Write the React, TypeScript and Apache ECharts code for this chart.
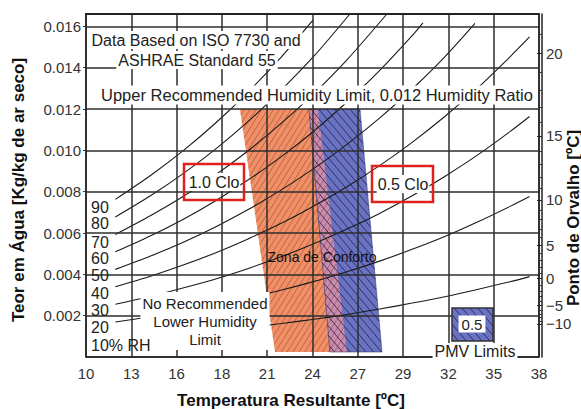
import React, { useEffect, useRef } from 'react';
import * as echarts from 'echarts';

// ---------- data ----------
// x axis runs in 5 °F steps (50..100 °F); labels are the rounded °C values
const xTickLabels = ['10', '13', '16', '18', '21', '24', '27', '29', '32', '35', '38'];
const xMinF = 50;
const xStepF = 5;
const yMax = 0.0166;
// dew point axis (right): labels and the humidity ratio where they sit
const dewTickLabels = ['−10', '−5', '0', '5', '10', '15', '20'];
const dewTickRatios = [0.0016, 0.0025, 0.0038, 0.0054, 0.0076, 0.0107, 0.0147];

// relative humidity curves: [temperature °C, humidity ratio kg/kg]
const rh90 = [[11.8, 0.00763], [14, 0.00881], [16, 0.01001], [18, 0.01136], [20, 0.01287], [22, 0.01454], [23.92, 0.0163]];
const rh80 = [[11.8, 0.00678], [14, 0.00783], [16, 0.0089], [18, 0.0101], [20, 0.01144], [22, 0.01294], [24, 0.01458], [26.18, 0.0166]];
const rh70 = [[11.8, 0.00593], [14, 0.00686], [16, 0.00779], [18, 0.00885], [20, 0.01002], [22, 0.01133], [24, 0.01277], [26, 0.01438], [28.45, 0.0166]];
const rh60 = [[11.8, 0.00509], [14, 0.00588], [16, 0.00668], [18, 0.00759], [20, 0.0086], [22, 0.00971], [24, 0.01095], [26, 0.01234], [28, 0.01386], [30, 0.01555], [30.66, 0.01617]];
const rh50 = [[11.8, 0.00424], [14, 0.0049], [16, 0.00557], [18, 0.00632], [20, 0.00716], [22, 0.0081], [24, 0.00914], [26, 0.01029], [28, 0.01156], [30, 0.01297], [32, 0.01453], [33.85, 0.01615]];
const rh40 = [[11.8, 0.0034], [14, 0.00392], [16, 0.00446], [18, 0.00506], [20, 0.00574], [22, 0.00648], [24, 0.00732], [26, 0.00824], [28, 0.00926], [30, 0.01039], [32, 0.01164], [34, 0.01301], [36, 0.01453], [37.2, 0.01549]];
const rh30 = [[11.8, 0.00255], [14, 0.00294], [16, 0.00335], [18, 0.00379], [20, 0.0043], [22, 0.00486], [24, 0.00549], [26, 0.00619], [28, 0.00695], [30, 0.0078], [32, 0.00874], [34, 0.00977], [36, 0.01091], [37.2, 0.01164]];
const rh20 = [[11.8, 0.00169], [14, 0.00196], [16, 0.00223], [18, 0.00253], [20, 0.00287], [22, 0.00324], [24, 0.00366], [26, 0.00413], [28, 0.00464], [30, 0.00521], [32, 0.00583], [34, 0.00653], [36, 0.00729], [37.2, 0.00777]];
const rh10 = [[14, 0.00098], [16, 0.00112], [18, 0.00127], [20, 0.00144], [22, 0.00162], [24, 0.00183], [26, 0.00206], [28, 0.00232], [30, 0.00261], [32, 0.00292], [34, 0.00327], [36, 0.00364], [37.2, 0.00389]];
const rhCurves = [rh90, rh80, rh70, rh60, rh50, rh40, rh30, rh20, rh10];
const rhLabels = ['90', '80', '70', '60', '50', '40', '30', '20', '10% RH'];

// comfort zones (corners: top-left, top-right, bottom-right, bottom-left), [°C, kg/kg]
const zone10Clo = [[19.44, 0.012], [24.22, 0.012], [26.0, 0.00024], [21.59, 0.00024]];
const zone05Clo = [[23.67, 0.012], [26.8, 0.012], [28.15, 0.00024], [24.96, 0.00024]];

// ---------- helpers ----------
const FONT = "'Liberation Sans', Arial, Helvetica, sans-serif";
const ORANGE = '#ef9068';
const BLUE = '#6a72c2';
const PINK = '#c78cae';
const GRID_COLOR = '#2e2e2e';
const toF = (c: number) => c * 1.8 + 32;
const xMaxF = xMinF + xStepF * (xTickLabels.length - 1);

function magnusRatio(td: number) {
  const es = td >= 0
    ? 0.61094 * Math.exp((17.625 * td) / (td + 243.04))
    : 0.61115 * Math.exp((22.452 * td) / (272.55 + td));
  return (0.622 * es) / (101.325 - es);
}
const dewMinorTicks: number[] = [];
for (let t = -10; t <= 21; t++) {
  if (t % 5 !== 0) dewMinorTicks.push(magnusRatio(t));
}

function hatchLines(pts: number[][], angleDeg: number, spacing: number, style: any) {
  const a = (angleDeg * Math.PI) / 180;
  const d = [Math.cos(a), -Math.sin(a)];
  const n = [-d[1], d[0]];
  const proj = pts.map((p) => p[0] * n[0] + p[1] * n[1]);
  const smin = Math.min(...proj);
  const smax = Math.max(...proj);
  const out: any[] = [];
  for (let s = Math.ceil(smin / spacing) * spacing; s <= smax; s += spacing) {
    const hits: number[][] = [];
    for (let i = 0; i < pts.length; i++) {
      const j = (i + 1) % pts.length;
      const sa = proj[i];
      const sb = proj[j];
      if (sa === sb) continue;
      if ((sa - s) * (sb - s) <= 0) {
        const t = (s - sa) / (sb - sa);
        hits.push([pts[i][0] + t * (pts[j][0] - pts[i][0]), pts[i][1] + t * (pts[j][1] - pts[i][1])]);
      }
    }
    if (hits.length >= 2) {
      hits.sort((p, q) => p[0] * d[0] + p[1] * d[1] - (q[0] * d[0] + q[1] * d[1]));
      const p1 = hits[0];
      const p2 = hits[hits.length - 1];
      out.push({ type: 'line', silent: true, shape: { x1: p1[0], y1: p1[1], x2: p2[0], y2: p2[1] }, style });
    }
  }
  return out;
}

const ORANGE_HATCH = { stroke: 'rgba(150,55,25,0.55)', lineWidth: 0.9 };
const BLUE_HATCH = { stroke: 'rgba(25,25,80,0.75)', lineWidth: 1 };

function txt(text: string, x: number, y: number, extra: any = {}, el: any = {}) {
  return {
    type: 'text',
    x,
    y,
    z: 20,
    silent: true,
    ...el,
    style: {
      text,
      align: 'center',
      verticalAlign: 'middle',
      fill: '#222',
      fontSize: 15,
      fontFamily: FONT,
      ...extra,
    },
  };
}

export default function App() {
  const ref = useRef<HTMLDivElement>(null);

  useEffect(() => {
    if (!ref.current) return;
    const chart = echarts.init(ref.current, undefined, { renderer: 'svg' });

    const pmvBox = [[452, 308], [493, 308], [493, 341], [452, 341]];

    const graphic: any[] = [
      txt('Data Based on ISO 7730 and', 196, 40, { backgroundColor: '#fff', padding: [1, 2], fontSize: 16 }),
      txt('ASHRAE Standard 55', 197, 60, { backgroundColor: '#fff', padding: [1, 2], fontSize: 16 }),
      txt('Upper Recommended Humidity Limit, 0.012 Humidity Ratio', 317, 95, { backgroundColor: '#fff', padding: [1, 2], fontSize: 16.5 }),
      txt('No Recommended\nLower Humidity\nLimit', 205, 321, { backgroundColor: '#fff', padding: [2, 2], lineHeight: 18 }),
      txt('Zona de Conforto', 322, 257, { fontSize: 14, fill: '#111' }),
      // clo boxes
      { type: 'rect', z: 20, silent: true, shape: { x: 184, y: 164, width: 60, height: 36 }, style: { fill: 'none', stroke: '#e0201c', lineWidth: 2.5 } },
      txt('1.0 Clo', 214, 182, { backgroundColor: '#fff', padding: [1, 1], fontSize: 16 }),
      { type: 'rect', z: 20, silent: true, shape: { x: 372, y: 166, width: 61, height: 36 }, style: { fill: 'none', stroke: '#e0201c', lineWidth: 2.5 } },
      txt('0.5 Clo', 403, 184, { backgroundColor: '#fff', padding: [1, 1], fontSize: 16 }),
      // PMV legend
      { type: 'rect', z: 19, silent: true, shape: { x: 452, y: 308, width: 41, height: 33 }, style: { fill: BLUE, stroke: 'none' } },
      ...hatchLines(pmvBox, -50, 6, BLUE_HATCH).map((l) => ({ ...l, z: 19 })),
      { type: 'rect', z: 20, silent: true, shape: { x: 452, y: 308, width: 41, height: 33 }, style: { fill: 'none', stroke: '#333', lineWidth: 1.5 } },
      txt('0.5', 472, 324, { backgroundColor: '#fff', padding: [1, 3], fontSize: 15 }),
      txt('PMV Limits', 475, 351, { backgroundColor: '#fff', padding: [0, 2], fontSize: 16 }),
      // axis titles
      txt('Teor em Água [Kg/kg de ar seco]', 18, 190, { fontWeight: 'bold', fontSize: 17, fill: '#111' }, { rotation: Math.PI / 2 }),
      txt('Ponto de Orvalho [ºC]', 573, 218, { fontWeight: 'bold', fontSize: 17, fill: '#111' }, { rotation: Math.PI / 2 }),
      txt('Temperatura Resultante [ºC]', 291, 400, { fontWeight: 'bold', fontSize: 17, fill: '#111' }),
    ];
    const rhLabelY = [207, 223, 242, 258, 275, 293, 310, 327, 345];
    rhLabels.forEach((l, i) => {
      graphic.push(txt(l, 91, rhLabelY[i], { align: 'left', fontSize: 16 }));
    });

    const axisLabelStyle = { fontSize: 15, color: '#333', fontFamily: FONT };
    const gridLine = { show: true, lineStyle: { color: GRID_COLOR, width: 1.5, type: 'solid', opacity: 1 } };

    const option: any = {
      animation: false,
      backgroundColor: '#fff',
      textStyle: { fontFamily: FONT },
      grid: { left: 86, right: 42, top: 14, bottom: 52, show: false },
      xAxis: [
        {
          type: 'value',
          min: xMinF,
          max: xMaxF,
          interval: xStepF,
          position: 'bottom',
          z: 5,
          axisLine: { show: true, onZero: false, lineStyle: { color: '#222', width: 1.5 } },
          axisTick: { show: false },
          axisLabel: { ...axisLabelStyle, margin: 9, formatter: (v: number) => xTickLabels[Math.round((v - xMinF) / xStepF)] ?? '' },
          splitLine: gridLine,
        },
        {
          type: 'value',
          min: xMinF,
          max: xMaxF,
          position: 'top',
          z: 5,
          axisLine: { show: true, onZero: false, lineStyle: { color: '#222', width: 2 } },
          axisTick: { show: false },
          axisLabel: { show: false },
          splitLine: { show: false },
        },
      ],
      yAxis: [
        {
          type: 'value',
          min: 0,
          max: yMax,
          interval: 0.002,
          position: 'left',
          z: 5,
          axisLine: { show: true, onZero: false, lineStyle: { color: '#222', width: 1.5 } },
          axisTick: { show: true, length: 3, lineStyle: { color: '#333' } },
          axisLabel: { ...axisLabelStyle, margin: 5, showMaxLabel: false, showMinLabel: false, formatter: (v: number) => v.toFixed(3) },
          splitLine: gridLine,
        },
        {
          type: 'value',
          min: 0,
          max: yMax,
          position: 'right',
          offset: 0,
          z: 5,
          axisLine: { show: true, onZero: false, lineStyle: { color: '#222', width: 1.5 } },
          axisTick: { show: false },
          axisLabel: { show: false },
          splitLine: { show: false },
        },
        {
          type: 'value',
          min: 0,
          max: yMax,
          position: 'right',
          offset: 3,
          z: 5,
          axisLine: { show: true, onZero: false, lineStyle: { color: '#222', width: 1.5 } },
          axisTick: { show: true, inside: true, length: 5, customValues: dewTickRatios, lineStyle: { color: '#222' } },
          axisLabel: {
            ...axisLabelStyle,
            margin: 4,
            customValues: dewTickRatios,
            formatter: (v: number) => {
              let best = 0;
              dewTickRatios.forEach((r, i) => {
                if (Math.abs(r - v) < Math.abs(dewTickRatios[best] - v)) best = i;
              });
              return dewTickLabels[best];
            },
          },
          splitLine: { show: false },
        },
        {
          type: 'value',
          min: 0,
          max: yMax,
          position: 'right',
          offset: 3,
          z: 5,
          axisLine: { show: false },
          axisTick: { show: true, inside: true, length: 3, customValues: dewMinorTicks, lineStyle: { color: '#333' } },
          axisLabel: { show: false },
          splitLine: { show: false },
        },
      ],
      series: [
        {
          type: 'custom',
          coordinateSystem: 'cartesian2d',
          z: 1,
          silent: true,
          data: [[75, 0.006]],
          renderItem: (params: any, api: any) => {
            const toPx = (p: number[]) => api.coord([toF(p[0]), p[1]]);
            const o = zone10Clo.map(toPx);
            const b = zone05Clo.map(toPx);
            const ov = [b[0], o[1], o[2], b[3]];
            return {
              type: 'group',
              children: [
                { type: 'polygon', shape: { points: o }, style: { fill: ORANGE } },
                ...hatchLines(o, 58, 5, ORANGE_HATCH),
                { type: 'polygon', shape: { points: b }, style: { fill: BLUE } },
                ...hatchLines(b, -50, 6, BLUE_HATCH),
                { type: 'polygon', shape: { points: ov }, style: { fill: PINK } },
                ...hatchLines(ov, 58, 5, ORANGE_HATCH),
                ...hatchLines(ov, -50, 6, BLUE_HATCH),
                { type: 'polygon', shape: { points: b }, style: { fill: 'none', stroke: 'rgba(40,40,90,0.6)', lineWidth: 0.8 } },
              ],
            };
          },
        },
        ...rhCurves.map((curve, i) => ({
          type: 'line',
          name: rhLabels[i],
          z: 4,
          silent: true,
          showSymbol: false,
          smooth: 0.3,
          data: curve.map((p) => [toF(p[0]), p[1]]),
          lineStyle: { color: '#1a1a1a', width: 1.1 },
        })),
      ],
      graphic,
    };

    chart.setOption(option);
    return () => chart.dispose();
  }, []);

  return <div ref={ref} style={{ position: 'fixed', left: 0, top: 0, width: 581, height: 409 }} />;
}
